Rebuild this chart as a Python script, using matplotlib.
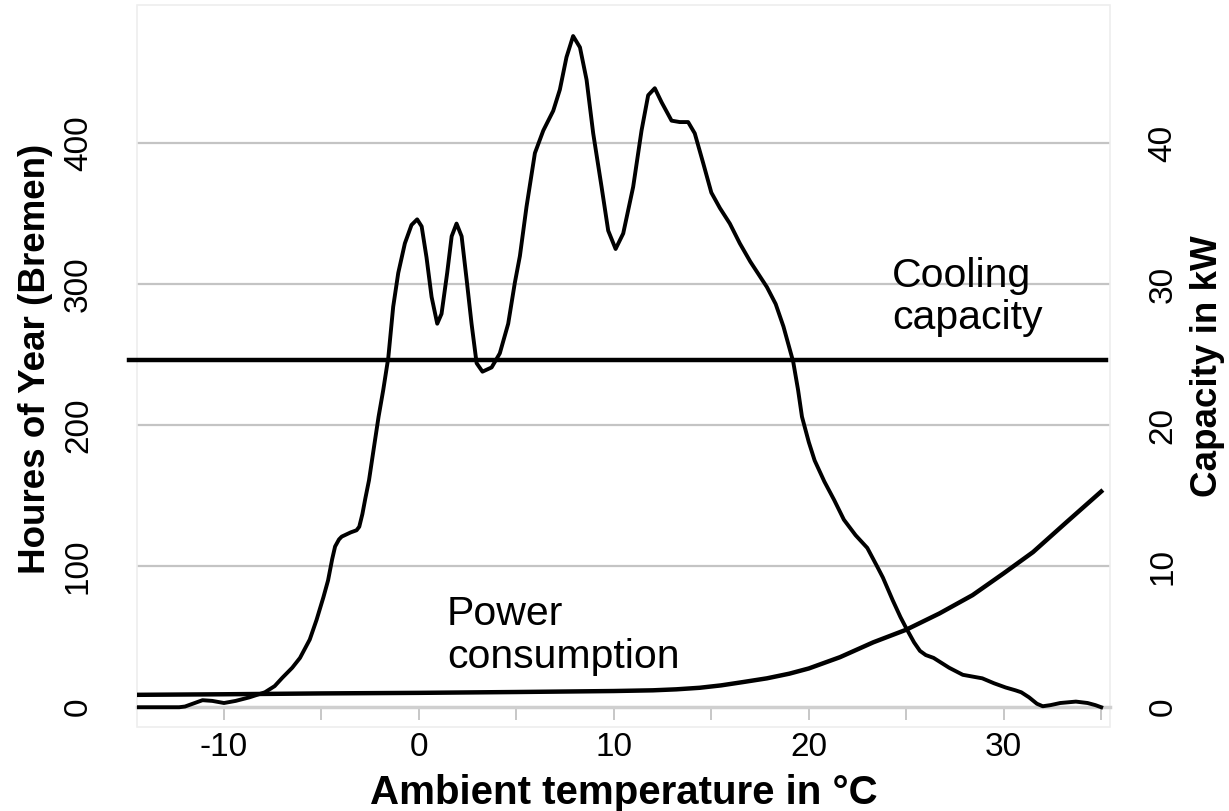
import numpy as np
import matplotlib.pyplot as plt
from matplotlib.patches import Rectangle

plt.rcParams['font.family'] = ['Liberation Sans', 'DejaVu Sans']

# hours of year per ambient temperature (Bremen)
temp_hours = [-14.5, -12.3, -12.0, -11.6, -11.1, -10.6, -10.0, -9.4, -8.7, -7.9,
              -7.4, -7.0, -6.5, -6.1, -5.6, -5.25, -4.9, -4.66, -4.45, -4.3,
              -4.1, -3.96, -3.5, -3.2, -3.06, -2.9, -2.75, -2.56, -2.3, -2.07,
              -1.83, -1.57, -1.32, -1.06, -0.72, -0.38, -0.09, 0.14, 0.39, 0.65,
              0.94, 1.16, 1.45, 1.68, 1.93, 2.19, 2.45, 2.7, 2.96, 3.26,
              3.73, 4.15, 4.58, 4.92, 5.18, 5.52, 5.95, 6.38, 6.89, 7.23,
              7.57, 7.91, 8.26, 8.6, 8.94, 9.37, 9.71, 10.09, 10.48, 10.99,
              11.42, 11.76, 12.1, 12.45, 12.96, 13.38, 13.81, 14.15, 14.58, 15.0,
              15.44, 15.95, 16.46, 17.0, 17.85, 18.3, 18.7, 19.0, 19.2, 19.45,
              19.65, 20.0, 20.3, 20.8, 21.3, 21.8, 22.4, 23.0, 23.5, 23.8,
              24.3, 24.7, 25.0, 25.4, 25.7, 26.0, 26.4, 27.2, 27.9, 28.9,
              29.5, 30.1, 30.6, 30.9, 31.3, 31.7, 32.0, 32.4, 32.9, 33.7,
              34.3, 34.7, 35.0]
hours = [0, 0, 0.5, 2.5, 5, 4.5, 3, 4.5, 7, 10.6,
         15, 21, 28, 35, 48, 62, 78, 90, 105, 114,
         119, 121, 124, 125.5, 128, 137, 148, 161, 185, 206,
         225, 248, 284, 308, 329, 342, 346, 341, 319, 291,
         272, 279, 308, 334, 343, 334, 303, 272, 244, 238,
         241, 251, 272, 301, 320, 355, 393, 409, 423, 438,
         461, 476, 468, 445, 407, 369, 338, 325, 336, 369,
         409, 434, 439, 429, 416, 415, 415, 407, 386, 365,
         354, 343, 329, 316, 298, 286, 270, 255, 245, 225,
         206, 188, 175, 160, 147, 133, 122, 113, 100, 92,
         76, 64, 56, 46, 40, 37, 35, 28, 23, 20.5,
         17, 14, 12, 10.6, 7, 2.5, 0.7, 1.5, 3, 4,
         3, 1.5, 0]

# power consumption in kW
temp_power = [-14.5, -10, -5, 0, 5, 10, 12, 13.2, 14.4, 15.5,
              16.6, 17.85, 19.0, 20.0, 21.6, 23.3, 25.0, 26.7, 28.4, 30.0,
              31.5, 33.2, 35.0]
power = [0.88, 0.92, 0.98, 1.02, 1.08, 1.15, 1.2, 1.27, 1.38, 1.55,
         1.78, 2.05, 2.38, 2.75, 3.55, 4.6, 5.5, 6.65, 7.95, 9.5,
         11.0, 13.1, 15.3]

cooling_capacity = 24.6  # kW

fig = plt.figure(figsize=(12.29, 8.11), dpi=100)
ax = fig.add_axes([0.1115, 0.1036, 0.7915, 0.8902])
ax2 = ax.twinx()

ax.set_xlim(-14.46, 35.44)
ax.set_ylim(-14, 498)
ax2.set_ylim(-1.4, 49.8)

for y in [100, 200, 300, 400]:
    ax.axhline(y, color='#c4c4c4', lw=1.6, zorder=1)

ax.plot(temp_hours, hours, color='black', lw=2.8, zorder=3,
        solid_joinstyle='round')
ax2.plot(temp_power, power, color='black', lw=3.2, zorder=3,
         solid_joinstyle='round')
ax2.axhline(cooling_capacity, xmin=-0.008, xmax=0.996, color='black', lw=3.2,
            clip_on=False, zorder=3)

for a in (ax, ax2):
    for s in ['top', 'left', 'right']:
        a.spines[s].set_visible(False)
ax2.spines['bottom'].set_visible(False)
ax.spines['bottom'].set_position(('data', 0))
ax.spines['bottom'].set_color('#cfcfcf')
ax.spines['bottom'].set_linewidth(2.5)
ax.add_patch(Rectangle((0, 0), 1, 1, transform=ax.transAxes, fill=False,
                       edgecolor='#eeeeee', lw=1.2, clip_on=False))

ax.set_xticks([-10, 0, 10, 20, 30])
ax.set_xticks([-5, 5, 15, 25, 35], minor=True)
ax.tick_params(axis='x', which='both', direction='out', length=9, width=1.2,
               color='#bdbdbd', labelsize=24, pad=9)
ax.set_xticklabels(['-10', '0', '10', '20', '30'])

ax.set_yticks([0, 100, 200, 300, 400])
ax.tick_params(axis='y', length=0, labelsize=24, pad=31)
for lab in ax.get_yticklabels():
    lab.set_rotation(90)
    lab.set_va('center')

ax2.set_yticks([0, 10, 20, 30, 40])
ax2.tick_params(axis='y', length=0, labelsize=24, pad=27)
for lab in ax2.get_yticklabels():
    lab.set_rotation(90)
    lab.set_va('center')
    lab.set_ha('left')

ax.set_xlabel('Ambient temperature in °C', fontsize=29, fontweight='bold', labelpad=8)
ax.set_ylabel('Houres of Year (Bremen)', fontsize=26.5, fontweight='bold')
ax.yaxis.set_label_coords(-0.086, 0.51)
ax2.set_ylabel('Capacity in kW', fontsize=26.5, fontweight='bold', rotation=90)
ax2.yaxis.set_label_coords(1.082, 0.5)

ax.text(24.26, 291, 'Cooling\ncapacity', fontsize=29.5, ha='left', va='center',
        linespacing=1.15, zorder=4)
ax.text(1.44, 51, 'Power\nconsumption', fontsize=29.5, ha='left', va='center',
        linespacing=1.15, zorder=4)

fig.savefig('out.png', dpi=100)
